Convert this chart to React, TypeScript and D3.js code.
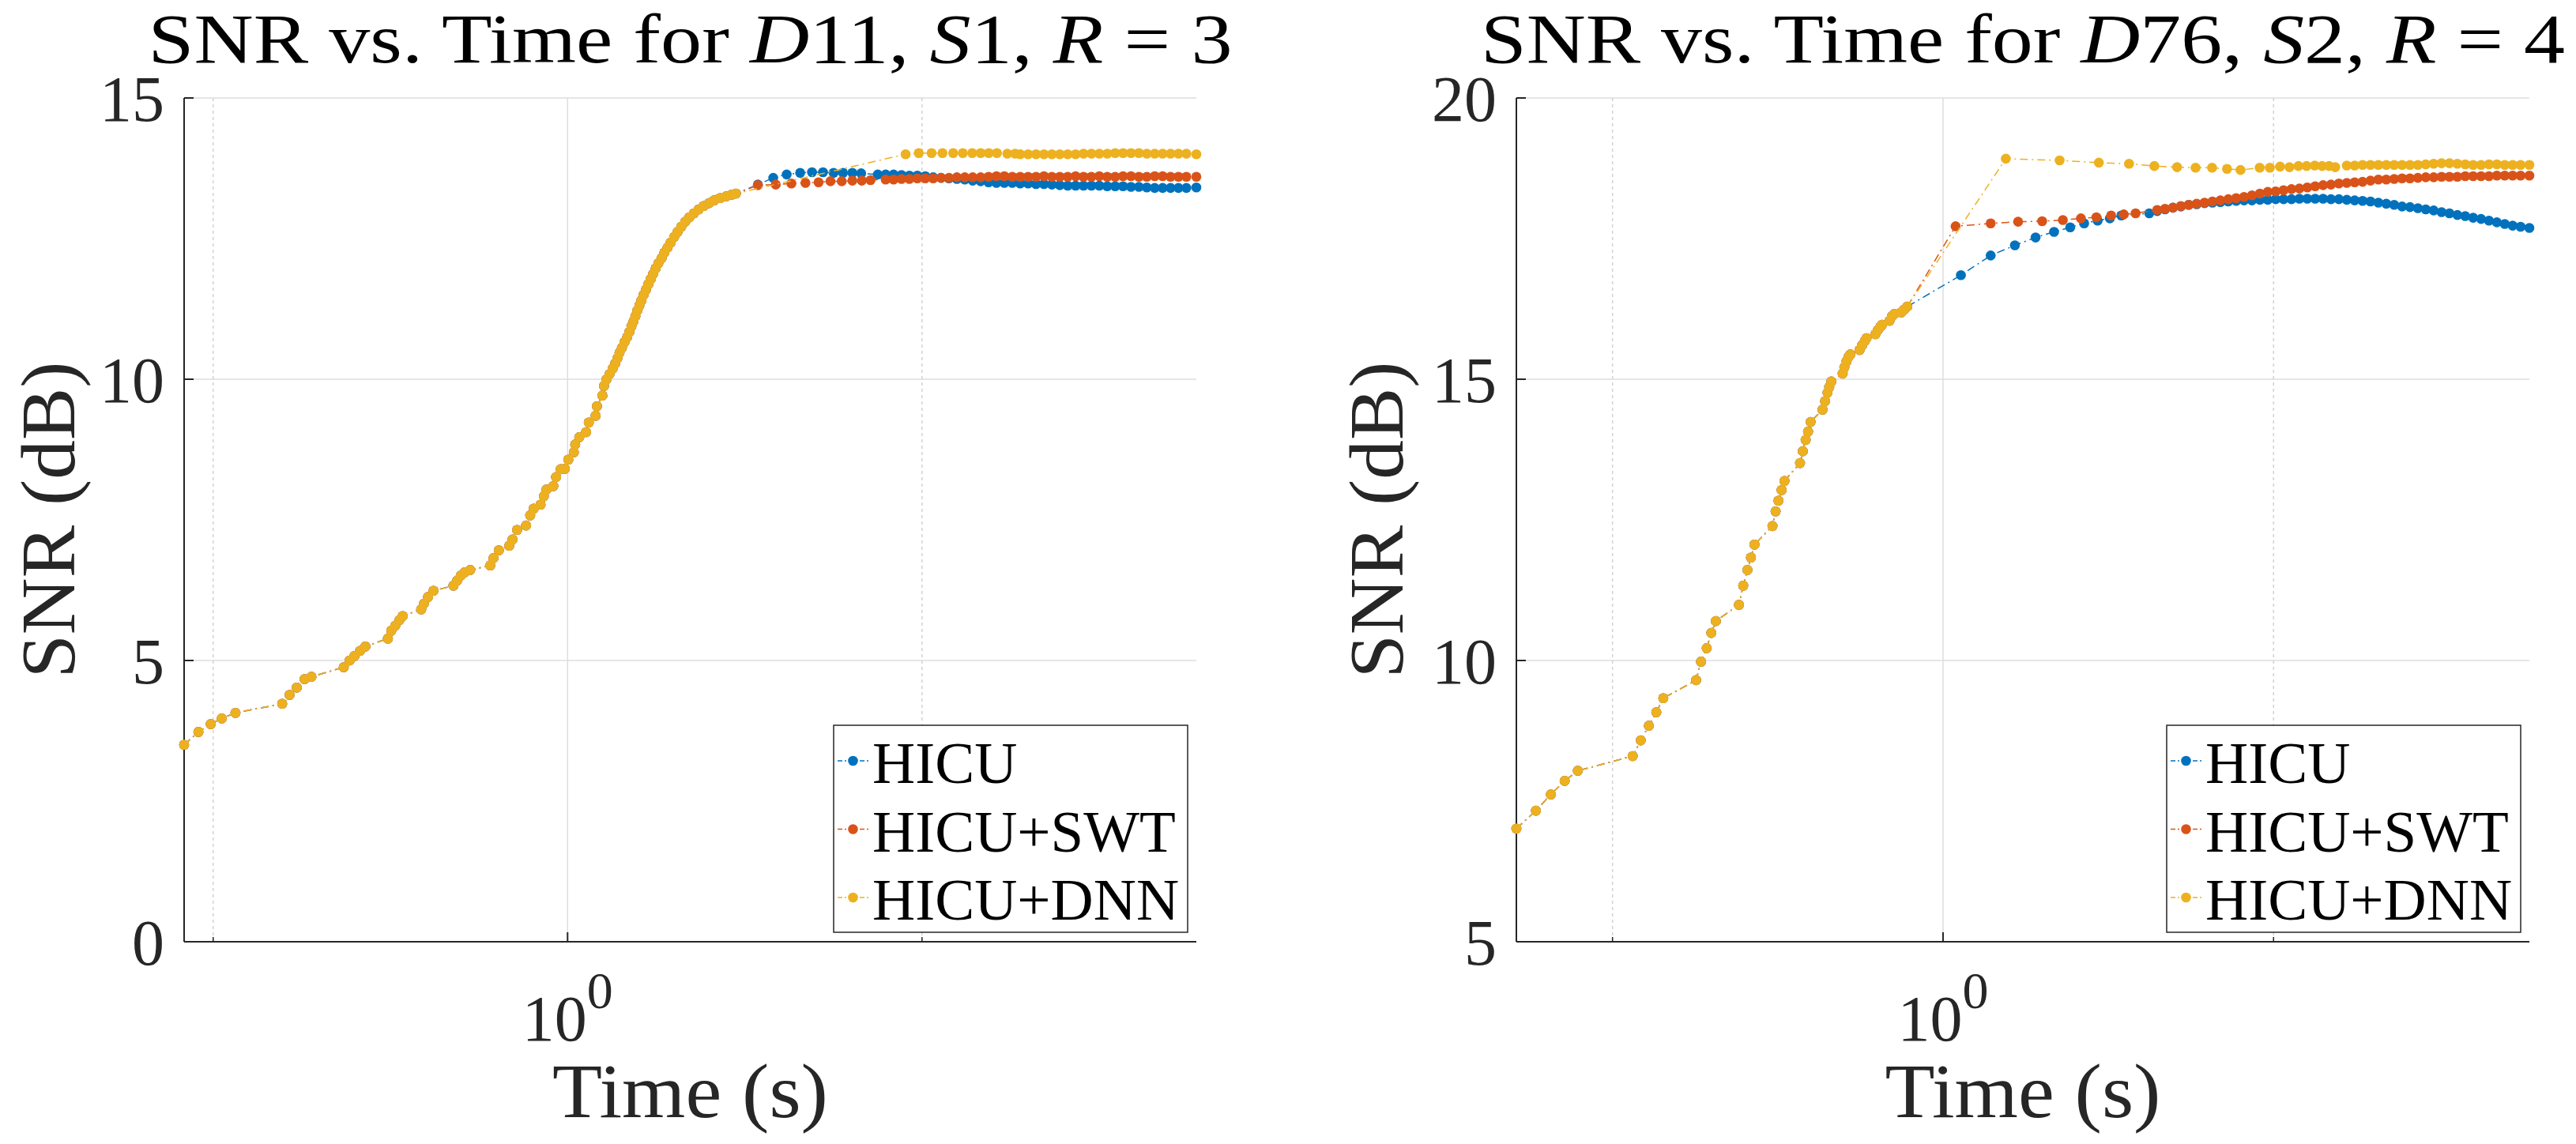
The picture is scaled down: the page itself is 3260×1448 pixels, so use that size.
import * as d3 from "d3";

const FONT = "'Liberation Serif', 'Times New Roman', serif";
const COLORS = ["#0072BD", "#D95319", "#EDB120"];
const LABELS = ["HICU", "HICU+SWT", "HICU+DNN"];

// ---------- left panel (D11, S1, R = 3) ----------
const L_COMMON_T = [
  0.4724, 0.4858, 0.4976, 0.5085, 0.5223, 0.5723, 0.5806, 0.5888, 0.5979, 0.606,
  0.6455, 0.653, 0.6592, 0.6664, 0.6734, 0.7037, 0.7084, 0.714, 0.7198, 0.7244,
  0.7511, 0.7551, 0.7612, 0.7693, 0.7999, 0.8058, 0.8115, 0.818, 0.8267, 0.8597,
  0.8651, 0.8742, 0.8922, 0.8979, 0.906, 0.9221, 0.9295, 0.9359, 0.9486, 0.9546,
  0.9596, 0.9725, 0.9778, 0.9866, 0.9946, 1.0015, 1.0123, 1.015, 1.0232, 1.0369,
  1.0424, 1.0563, 1.0591, 1.0705, 1.0738, 1.0793, 1.0854, 1.0922, 1.0977, 1.1023,
  1.1069, 1.1121, 1.1178, 1.1236, 1.1283, 1.133, 1.1376, 1.1418, 1.1459, 1.1507,
  1.1553, 1.1602, 1.1656, 1.171, 1.1765, 1.1819, 1.188, 1.1943, 1.2017, 1.2084,
  1.2159, 1.2235, 1.2318, 1.24, 1.249, 1.2587, 1.269, 1.2803, 1.2923, 1.305,
  1.3186, 1.332, 1.3474, 1.3634, 1.3776, 1.3898,
];
const L_COMMON_V = [
  3.5, 3.73, 3.87, 3.97, 4.07, 4.23, 4.39, 4.52, 4.67, 4.71,
  4.88, 5.0, 5.08, 5.17, 5.25, 5.39, 5.53, 5.62, 5.72, 5.79,
  5.91, 6.01, 6.13, 6.24, 6.33, 6.42, 6.51, 6.57, 6.61, 6.69,
  6.82, 6.96, 7.04, 7.15, 7.32, 7.4, 7.58, 7.7, 7.77, 7.92,
  8.04, 8.1, 8.26, 8.4, 8.41, 8.57, 8.7, 8.84, 8.97, 9.06,
  9.23, 9.35, 9.52, 9.71, 9.88, 10.0, 10.09, 10.19, 10.28, 10.37,
  10.47, 10.56, 10.66, 10.75, 10.84, 10.94, 11.03, 11.12, 11.22, 11.31,
  11.4, 11.5, 11.59, 11.69, 11.78, 11.87, 11.97, 12.06, 12.15, 12.25,
  12.34, 12.43, 12.53, 12.62, 12.71, 12.8, 12.88, 12.95, 13.02, 13.08,
  13.13, 13.18, 13.22, 13.25, 13.28, 13.3,
];
const L_DENSE_T = [
  1.8342, 1.8628, 1.8919, 1.9214, 1.9513, 1.9818, 2.0127, 2.0441, 2.076, 2.1083,
  2.1412, 2.1746, 2.2085, 2.243, 2.278, 2.3135, 2.3495, 2.3862, 2.4234, 2.4612,
  2.4996, 2.5386, 2.5782, 2.6184, 2.6592, 2.7007, 2.7428, 2.7856, 2.829, 2.8731,
  2.9179, 2.9634, 3.0096, 3.0566, 3.1043, 3.1527, 3.2018, 3.2518, 3.3025, 3.354,
  3.42,
];
const L_HICU_T = [1.4509, 1.4951, 1.535, 1.5759, 1.6129, 1.6479, 1.6824, 1.7137, 1.7453, 1.7756];
const L_HICU_V = [13.46, 13.58, 13.64, 13.67, 13.68, 13.68, 13.67, 13.67, 13.67, 13.66];
const L_HICU_DENSE_V = [
  13.64, 13.64, 13.64, 13.63, 13.62, 13.62, 13.61, 13.59, 13.58, 13.57,
  13.56, 13.55, 13.53, 13.52, 13.5, 13.49, 13.49, 13.49, 13.48, 13.48,
  13.47, 13.47, 13.46, 13.45, 13.44, 13.44, 13.44, 13.44, 13.44, 13.43,
  13.43, 13.43, 13.42, 13.42, 13.41, 13.4, 13.4, 13.4, 13.4, 13.4,
  13.41,
];
const L_SWT_T = [1.4509, 1.5025, 1.5491, 1.5923, 1.6337, 1.6723, 1.7095, 1.7453, 1.7778, 1.8085];
const L_SWT_V = [13.45, 13.46, 13.48, 13.49, 13.5, 13.52, 13.52, 13.53, 13.53, 13.54];
const L_SWT_DENSE_V = [
  13.55, 13.55, 13.56, 13.56, 13.57, 13.57, 13.57, 13.58, 13.58, 13.59,
  13.59, 13.59, 13.59, 13.6, 13.61, 13.61, 13.6, 13.6, 13.6, 13.6,
  13.61, 13.6, 13.6, 13.6, 13.61, 13.6, 13.6, 13.61, 13.6, 13.6,
  13.61, 13.61, 13.6, 13.6, 13.61, 13.61, 13.6, 13.6, 13.6, 13.6,
];
const L_DNN_T = [1.9369, 1.9873, 2.0377, 2.0818, 2.1257, 2.1661, 2.2064, 2.2433, 2.279, 2.3156, 2.3631, 2.3996];
const L_DNN_V = [14.0, 14.02, 14.02, 14.02, 14.02, 14.02, 14.02, 14.02, 14.02, 14.02, 14.01, 14.01];
const L_DNN_DENSE_V = [
  14.0, 14.0, 14.0, 14.0, 14.0, 14.0, 14.0, 14.0, 14.01, 14.01,
  14.01, 14.01, 14.02, 14.02, 14.02, 14.02, 14.01, 14.01, 14.01, 14.01,
  14.01, 14.01, 14.0,
];

// ---------- right panel (D76, S2, R = 4) ----------
const R_COMMON_T = [
  0.4087, 0.4258, 0.4394, 0.4523, 0.4649, 0.5216, 0.5305, 0.5396, 0.5481, 0.5562,
  0.5958, 0.602, 0.6092, 0.6151, 0.621, 0.6518, 0.6577, 0.6635, 0.6684, 0.6734,
  0.6993, 0.7039, 0.7081, 0.7128, 0.7171, 0.7409, 0.7452, 0.7497, 0.7535, 0.7575,
  0.7767, 0.7808, 0.7848, 0.7877, 0.7912, 0.8102, 0.8131, 0.8168, 0.8204, 0.8234,
  0.8394, 0.8437, 0.8487, 0.8518, 0.8678, 0.8722, 0.8767, 0.8801, 0.8939, 0.8985,
  0.9031, 0.9165, 0.922, 0.9276,
];
const R_COMMON_V = [
  7.01, 7.33, 7.62, 7.86, 8.04, 8.3, 8.58, 8.84, 9.08, 9.33,
  9.65, 9.98, 10.22, 10.49, 10.7, 10.99, 11.33, 11.61, 11.83, 12.06,
  12.39, 12.65, 12.84, 13.03, 13.19, 13.51, 13.72, 13.92, 14.07, 14.24,
  14.46, 14.61, 14.76, 14.86, 14.96, 15.1, 15.21, 15.32, 15.4, 15.44,
  15.52, 15.6, 15.68, 15.73, 15.8, 15.87, 15.93, 15.97, 16.04, 16.12,
  16.16, 16.19, 16.24, 16.29,
];
const R_DENSE_T = [
  1.5411, 1.5669, 1.593, 1.6197, 1.6467, 1.6742, 1.7022, 1.7306, 1.7596, 1.789,
  1.8189, 1.8492, 1.8801, 1.9115, 1.9435, 1.9759, 2.0089, 2.0425, 2.0766, 2.1113,
  2.1466, 2.1824, 2.2189, 2.2559, 2.2936, 2.332, 2.3709, 2.4105, 2.4508, 2.4917,
  2.5333, 2.5757, 2.6187, 2.6624, 2.7069, 2.7521, 2.7981, 2.8448, 2.8923, 2.9406,
  2.9897, 3.0397, 3.0904, 3.142, 3.1945, 3.2479, 3.3021, 3.3573, 3.42,
];
const R_HICU_T = [1.0382, 1.1051, 1.1626, 1.2142, 1.2622, 1.3057, 1.3444, 1.3829, 1.4189, 1.4534];
const R_HICU_V = [16.85, 17.2, 17.38, 17.52, 17.62, 17.7, 17.77, 17.82, 17.86, 17.91];
const R_HICU_DENSE_V = [
  17.95, 17.99, 18.02, 18.05, 18.07, 18.1, 18.11, 18.13, 18.14, 18.15,
  18.16, 18.17, 18.18, 18.18, 18.19, 18.19, 18.2, 18.2, 18.2, 18.21,
  18.21, 18.21, 18.21, 18.2, 18.2, 18.19, 18.18, 18.17, 18.16, 18.14,
  18.12, 18.1, 18.07, 18.06, 18.04, 18.02, 18.0, 17.97, 17.95, 17.92,
  17.9, 17.87, 17.85, 17.82, 17.79, 17.76, 17.73, 17.71, 17.69,
];
const R_SWT_T = [1.0267, 1.1051, 1.1705, 1.2311, 1.2857, 1.3353, 1.3794, 1.4226, 1.4609, 1.4976];
const R_SWT_V = [17.72, 17.77, 17.8, 17.81, 17.83, 17.86, 17.88, 17.91, 17.93, 17.95];
const R_SWT_DENSE_V = [
  18.01, 18.03, 18.05, 18.08, 18.1, 18.12, 18.14, 18.16, 18.18, 18.2,
  18.22, 18.24, 18.27, 18.3, 18.33, 18.34, 18.36, 18.38, 18.39, 18.41,
  18.43, 18.45, 18.46, 18.48, 18.49, 18.5, 18.51, 18.53, 18.55, 18.55,
  18.56, 18.57, 18.57, 18.58, 18.59, 18.59, 18.6, 18.6, 18.6, 18.61,
  18.61, 18.61, 18.61, 18.62, 18.62, 18.62, 18.62, 18.62,
];
const R_DNN_T = [
  1.1407, 1.277, 1.3865, 1.4771, 1.5576, 1.6336, 1.6982, 1.7581, 1.814, 1.866,
  1.9427, 1.9846, 2.0274, 2.0678, 2.1072, 2.1435, 2.1804, 2.2143, 2.2468, 2.276,
];
const R_DNN_V = [
  18.92, 18.89, 18.85, 18.83, 18.79, 18.77, 18.76, 18.76, 18.74, 18.72,
  18.76, 18.76, 18.78, 18.77, 18.79, 18.79, 18.8, 18.79, 18.79, 18.77,
];
const R_DNN_DENSE_V = [
  18.8, 18.8, 18.81, 18.81, 18.81, 18.81, 18.81, 18.81, 18.81, 18.81,
  18.82, 18.83, 18.84, 18.84, 18.83, 18.82, 18.81, 18.81, 18.82, 18.82,
  18.81, 18.81, 18.81, 18.81,
];

const L_YTICKS = [0, 5, 10, 15];
const R_YTICKS = [5, 10, 15, 20];
const MINOR_X = [0.5, 2];

type Pt = [number, number];
const zip = (t: number[], v: number[]): Pt[] => t.map((d, i) => [d, v[i]]);

const leftSeries: Pt[][] = [
  zip([...L_COMMON_T, ...L_HICU_T, ...L_DENSE_T], [...L_COMMON_V, ...L_HICU_V, ...L_HICU_DENSE_V]),
  zip([...L_COMMON_T, ...L_SWT_T, ...L_DENSE_T.slice(1)], [...L_COMMON_V, ...L_SWT_V, ...L_SWT_DENSE_V]),
  zip([...L_COMMON_T, ...L_DNN_T, ...L_DENSE_T.slice(18)], [...L_COMMON_V, ...L_DNN_V, ...L_DNN_DENSE_V]),
];
const rightSeries: Pt[][] = [
  zip([...R_COMMON_T, ...R_HICU_T, ...R_DENSE_T], [...R_COMMON_V, ...R_HICU_V, ...R_HICU_DENSE_V]),
  zip([...R_COMMON_T, ...R_SWT_T, ...R_DENSE_T.slice(1)], [...R_COMMON_V, ...R_SWT_V, ...R_SWT_DENSE_V]),
  zip([...R_COMMON_T, ...R_DNN_T, ...R_DENSE_T.slice(25)], [...R_COMMON_V, ...R_DNN_V, ...R_DNN_DENSE_V]),
];

const TOP = 124;
const BOTTOM = 1192;

function Panel({ left, right, xDomain, yDomain, yTicks, series, title, ylabelX }: {
  left: number;
  right: number;
  xDomain: [number, number];
  yDomain: [number, number];
  yTicks: number[];
  series: Pt[][];
  title: [string, string, string];
  ylabelX: number;
}) {
  const x = d3.scaleLog().domain(xDomain).range([left, right]);
  const y = d3.scaleLinear().domain(yDomain).range([BOTTOM, TOP]);
  const line = d3.line<Pt>().x((d) => x(d[0])).y((d) => y(d[1]));
  const cx = (left + right) / 2;
  const legX = right - 459;
  const legY = 918;

  return (
    <g fontFamily={FONT}>
      {/* grid */}
      {yTicks.map((t) => (
        <line key={"gy" + t} x1={left} x2={right} y1={y(t)} y2={y(t)} stroke="#dedede" strokeWidth={1.5} />
      ))}
      <line x1={x(1)} x2={x(1)} y1={TOP} y2={BOTTOM} stroke="#dedede" strokeWidth={1.5} />
      {MINOR_X.map((t) => (
        <line key={"gx" + t} x1={x(t)} x2={x(t)} y1={TOP} y2={BOTTOM} stroke="#d2d2d2" strokeWidth={1.5} strokeDasharray="4,4" />
      ))}

      {/* axes */}
      <line x1={left} x2={left} y1={TOP} y2={BOTTOM} stroke="#262626" strokeWidth={2} />
      <line x1={left} x2={right} y1={BOTTOM} y2={BOTTOM} stroke="#262626" strokeWidth={2} />
      {yTicks.map((t) => (
        <g key={"ty" + t}>
          <line x1={left} x2={left + 12} y1={y(t)} y2={y(t)} stroke="#262626" strokeWidth={2} />
          <text x={left - 25} y={y(t) + 29} textAnchor="end" fontSize={82} fill="#262626">{t}</text>
        </g>
      ))}
      <line x1={x(1)} x2={x(1)} y1={BOTTOM} y2={BOTTOM - 12} stroke="#262626" strokeWidth={2} />
      {MINOR_X.map((t) => (
        <line key={"tx" + t} x1={x(t)} x2={x(t)} y1={BOTTOM} y2={BOTTOM - 6} stroke="#262626" strokeWidth={1.5} />
      ))}
      <text x={x(1)} y={1317} textAnchor="middle" fontSize={82} fill="#262626">
        10<tspan dy={-41} fontSize={66}>0</tspan>
      </text>

      {/* labels */}
      <text x={cx} y={1414} textAnchor="middle" fontSize={97} fill="#262626" textLength={349} lengthAdjust="spacingAndGlyphs">
        Time (s)
      </text>
      <text transform={`translate(${ylabelX},${(TOP + BOTTOM) / 2}) rotate(-90)`} textAnchor="middle" fontSize={97} fill="#262626" textLength={401} lengthAdjust="spacingAndGlyphs">
        SNR (dB)
      </text>
      <text x={cx} y={79} textAnchor="middle" fontSize={88} fill="#000" textLength={1372} lengthAdjust="spacingAndGlyphs">
        {"SNR vs.  Time for "}
        <tspan fontStyle="italic">D</tspan>
        {title[0] + ", "}
        <tspan fontStyle="italic">S</tspan>
        {title[1] + ", "}
        <tspan fontStyle="italic">R</tspan>
        {" = " + title[2]}
      </text>

      {/* series */}
      {series.map((pts, i) => (
        <g key={"s" + i}>
          <path d={line(pts) ?? ""} fill="none" stroke={COLORS[i]} strokeWidth={1.5} strokeDasharray="10,5,2,5" />
          {pts.map((d, j) => (
            <circle key={j} cx={x(d[0])} cy={y(d[1])} r={6.3} fill={COLORS[i]} />
          ))}
        </g>
      ))}

      {/* legend */}
      <rect x={legX} y={legY} width={448} height={262} fill="#fff" stroke="#262626" strokeWidth={1.5} />
      {LABELS.map((lab, i) => {
        const cy = legY + 45 + i * 86.5;
        return (
          <g key={lab}>
            <line x1={legX + 5} x2={legX + 44} y1={cy} y2={cy} stroke={COLORS[i]} strokeWidth={1.5} strokeDasharray="6,3,2,3" />
            <circle cx={legX + 24.5} cy={cy} r={6.3} fill={COLORS[i]} />
            <text x={legX + 49} y={cy + 28} fontSize={75} fill="#000">{lab}</text>
          </g>
        );
      })}
    </g>
  );
}

export default function App() {
  return (
    <div>
      <style>{"body{margin:0;overflow:hidden;background:#fff}"}</style>
      <svg width={3260} height={1448} viewBox="0 0 3260 1448" style={{ display: "block" }}>
        <rect width={3260} height={1448} fill="#fff" />
        <Panel
          left={233}
          right={1514}
          xDomain={[0.4724, 3.42]}
          yDomain={[0, 15]}
          yTicks={L_YTICKS}
          series={leftSeries}
          title={["11", "1", "3"]}
          ylabelX={94}
        />
        <Panel
          left={1919}
          right={3201}
          xDomain={[0.4087, 3.42]}
          yDomain={[5, 20]}
          yTicks={R_YTICKS}
          series={rightSeries}
          title={["76", "2", "4"]}
          ylabelX={1775}
        />
      </svg>
    </div>
  );
}
